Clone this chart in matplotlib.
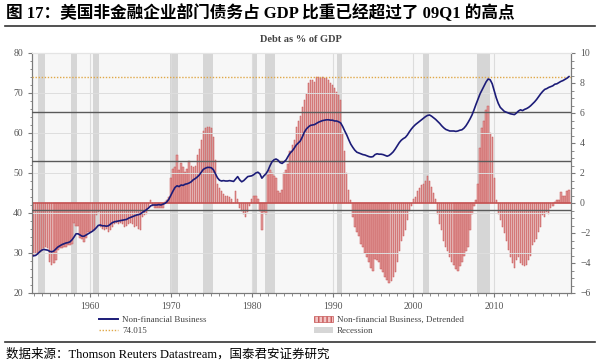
import matplotlib
matplotlib.use("Agg")
import matplotlib.pyplot as plt
import numpy as np
from matplotlib.lines import Line2D
from matplotlib.patches import Patch
from matplotlib.ticker import MultipleLocator

# ---------------- data ----------------
start_year = 1953
# Non-financial business debt, % of GDP (quarterly, 1953Q1 - 2019Q2)
debt_pct_gdp = [
    29.3, 29.4, 29.8, 30.3,  30.7, 30.9, 30.8, 30.7,  30.4, 30.3, 30.5, 31.0,
    31.5, 31.8, 32.1, 32.3,  32.5, 32.6, 32.8, 33.3,  34.0, 34.8, 34.8, 34.5,
    34.2, 34.2, 34.5, 34.8,  35.1, 35.4, 35.8, 36.3,  36.9, 37.0, 36.8, 36.8,
    36.7, 36.8, 37.2, 37.6,  37.8, 37.9, 38.0, 38.1,  38.2, 38.3, 38.4, 38.7,
    38.9, 39.1, 39.3, 39.5,  39.6, 39.8, 40.2, 40.5,  40.9, 41.3, 41.8, 42.0,
    42.0, 42.0, 42.1, 42.0,  42.2, 42.4, 42.8, 43.5,  44.5, 45.5, 46.4, 46.8,
    46.6, 47.0, 46.9, 47.2,  47.3, 47.5, 47.8, 48.3,  48.6, 49.0, 49.5, 50.2,
    50.9, 51.2, 51.4, 51.4,  51.3, 50.8, 49.8, 48.8,  48.2, 48.0, 48.1, 48.0,
    48.0, 48.1, 48.0, 47.9,  48.5, 49.1, 48.3, 47.8,  48.1, 48.6, 49.1, 49.2,
    49.3, 49.6, 50.0, 50.2,  49.8, 48.7, 49.3, 49.8,  50.6, 51.8, 52.8, 53.3,
    53.5, 53.2, 52.6, 52.4,  52.8, 53.3, 54.2, 55.0,  55.5, 56.2, 57.0, 57.5,
    58.0, 59.0, 60.2, 61.0,  61.5, 61.9, 62.0, 62.1,  62.4, 62.7, 62.9, 63.1,
    63.2, 63.3, 63.3, 63.2,  63.2, 63.0, 63.0, 62.8,  62.5, 61.6, 60.5, 59.5,
    58.3, 57.2, 56.4, 55.7,  55.2, 55.0, 54.8, 54.6,  54.5, 54.3, 54.1, 54.0,
    54.1, 54.6, 54.8, 54.7,  54.7, 54.6, 54.4, 54.2,  54.4, 54.8, 55.3, 56.0,
    56.8, 57.6, 58.2, 58.6,  58.9, 59.5, 60.3, 61.0,  61.6, 62.1, 62.5, 62.9,
    63.3, 63.7, 64.1, 64.4,  64.5, 64.2, 63.8, 63.4,  62.9, 62.4, 61.8, 61.3,
    60.9, 60.7, 60.5, 60.5,  60.5, 60.4, 60.5, 60.7,  60.8, 61.2, 61.8, 62.6,
    63.5, 64.5, 65.8, 67.2,  68.5, 69.8, 70.8, 71.8,  72.8, 73.5, 73.3, 72.3,
    70.5, 68.8, 67.4, 66.4,  65.9, 65.4, 65.2, 65.0,  64.8, 64.7, 64.6, 65.0,
    65.5, 65.8, 65.6, 65.9,  66.1, 66.4, 66.8, 67.3,  67.8, 68.4, 69.1, 69.8,
    70.4, 70.9, 71.1, 71.4,  71.6, 71.8, 72.2, 72.3,  72.6, 72.9, 73.1, 73.4,
    73.7, 74.1,
]
# Detrended series (right axis), same quarters
detrended = [
    -3.5, -3.4, -3.4, -3.3,  -3.2, -3.0, -2.9, -3.0,  -3.9, -4.1, -4.0, -3.8,
    -3.1, -3.0, -3.0, -2.9,  -2.9, -2.8, -2.8, -2.7,  -1.3, -1.5, -1.5, -2.3,
    -2.4, -2.6, -2.3, -1.9,  -1.9, -1.8, -1.8, -0.8,  -0.6, -1.6, -1.7, -1.8,
    -1.7, -1.9, -1.8, -1.6,  -1.4, -1.3, -1.4, -1.3,  -1.4, -1.6, -1.5, -1.4,
    -1.3, -1.4, -1.6, -1.5,  -1.7, -1.8, -0.9, -0.8,  -0.7, -0.3, 0.2, -0.2,
    -0.35, -0.3, -0.35, -0.3,  -0.3, 0.1, 0.2, 0.4,  1.7, 2.3, 2.4, 3.2,
    2.2, 2.7, 2.4, 2.1,  2.3, 2.8, 2.5, 2.4,  2.5, 3.2, 3.6, 4.2,
    4.8, 5.0, 5.1, 5.1,  5.0, 4.4, 2.9, 1.3,  1.0, 0.8, 0.6, 0.5,
    0.5, 0.4, 0.3, 0.0,  0.8, 0.3, -0.3, -0.5,  -0.7, -0.9, -0.6, -0.2,
    0.3, 0.5, 0.5, 0.3,  -0.5, -1.8, -0.6, -0.7,  1.9, 2.2, 2.0, 1.8,
    1.7, 0.8, 0.7, 0.9,  2.0, 2.2, 2.6, 3.5,  3.9, 4.2, 5.1, 5.5,
    5.8, 6.4, 6.9, 7.3,  8.0, 8.2, 8.2, 8.1,  8.4, 8.4, 8.3, 8.4,
    8.3, 8.3, 8.2, 8.0,  7.9, 7.7, 7.4, 7.2,  6.9, 4.7, 3.5, 2.0,
    0.9, 0.2, -0.9, -1.6,  -1.9, -2.2, -2.7, -2.9,  -3.3, -3.6, -3.9, -4.3,
    -4.5, -3.7, -3.8, -3.9,  -4.4, -4.6, -4.9, -5.1,  -5.3, -5.2, -4.9, -4.6,
    -3.9, -3.2, -2.5, -2.2,  -1.8, -1.1, -0.5, -0.2,  0.3, 0.4, 0.8, 1.0,
    1.2, 1.3, 1.5, 1.8,  1.5, 1.1, 0.7, 0.3,  -0.7, -1.4, -1.8, -2.5,
    -2.9, -3.2, -3.6, -3.9,  -4.1, -4.4, -4.5, -4.2,  -3.9, -3.5, -3.2, -2.9,
    -1.8, -0.7, -0.2, 0.2,  1.3, 3.7, 5.0, 5.5,  6.2, 6.5, 4.7, 4.4,
    1.7, 0.2, -0.7, -1.1,  -1.6, -2.0, -2.5, -3.1,  -3.6, -4.0, -4.3, -3.8,
    -3.6, -4.0, -4.1, -4.2,  -4.1, -3.8, -3.5, -2.8,  -2.6, -2.4, -1.9, -1.6,
    -0.8, -0.9, -0.6, -0.7,  -0.3, -0.2, 0.1, 0.2,  0.2, 0.75, 0.5, 0.5,
    0.8, 0.9,
]
recession_start = [1953.5, 1957.6, 1960.3, 1969.9, 1973.9, 1980.0, 1981.6, 1990.6, 2001.2, 2007.9]
recession_end   = [1954.4, 1958.4, 1961.1, 1970.9, 1975.2, 1980.6, 1982.9, 1991.2, 2001.9, 2009.5]
reference_level = 74.015
band_levels = [65.2, 53.0, 40.8]
decade_ticks = [1960, 1970, 1980, 1990, 2000, 2010]

x = start_year + np.arange(len(debt_pct_gdp)) / 4.0

# ---------------- figure ----------------
serif = ['Liberation Serif', 'Noto Sans CJK SC']
fig = plt.figure(figsize=(6.0, 3.63), dpi=100)
L, R, T, B = 32, 571, 53, 293
W, H = 600, 363
ax = fig.add_axes([L / W, 1 - B / H, (R - L) / W, (B - T) / H])
ax.set_facecolor('#f7f7f7')

# recessions
for s, e in zip(recession_start, recession_end):
    ax.axvspan(s, e, color='#d6d6d6', zorder=1, lw=0)
for d in decade_ticks:
    ax.axvline(d, color='#dcdcdc', lw=0.8, zorder=1.5)

ax.bar(x, detrended, width=0.17, color='#e29a9a', edgecolor='#c65555',
       linewidth=0.35, zorder=2)
ax.axhline(0, color='#c65555', lw=1.2, zorder=2.5)
ax.set_ylim(-6, 10)
ax.set_xlim(1952.8, 2019.5)

ax2 = ax.twinx()
ax2.patch.set_visible(False)
ax2.set_ylim(20, 80)
# left scale on ax2, right scale on ax
ax2.yaxis.set_ticks_position('left')
ax2.yaxis.set_label_position('left')
ax.yaxis.set_ticks_position('right')
ax.yaxis.set_label_position('right')
ax.yaxis.set_major_locator(MultipleLocator(2))
ax.yaxis.set_minor_locator(MultipleLocator(0.5))
ax2.yaxis.set_major_locator(MultipleLocator(10))
ax2.yaxis.set_minor_locator(MultipleLocator(2))

for g in range(30, 80, 10):
    ax2.axhline(g, color='#dedede', lw=0.7, zorder=1)
for lv in band_levels:
    ax2.axhline(lv, color='#5a5a5a', lw=1.0, zorder=3)
ax2.axhline(reference_level, color='#e0a848', lw=1.0, ls=(0, (1, 1.2)), zorder=3)
ax2.plot(x, debt_pct_gdp, color='#1c1c78', lw=1.2, zorder=4)

ax.set_xticks(decade_ticks)
ax.xaxis.set_minor_locator(MultipleLocator(1))

for a in (ax, ax2):
    for sp in a.spines.values():
        sp.set_color('#7a7a7a')
        sp.set_linewidth(0.8)
    a.spines['top'].set_color('#e4e4e4')
    a.tick_params(which='both', direction='out', colors='#7a7a7a',
                  labelcolor='#555555', labelsize=7)
    a.tick_params(which='major', length=3)
    a.tick_params(which='minor', length=1.8)
    for lab in a.get_xticklabels() + a.get_yticklabels():
        lab.set_family('Liberation Serif')

# titles / texts
fig.text(6 / W, 1 - 13 / H, '图 17：美国非金融企业部门债务占 GDP 比重已经超过了 09Q1 的高点',
         family=serif, fontsize=12, fontweight='bold', va='center', ha='left')
fig.add_artist(Line2D([5 / W, 595 / W], [1 - 26 / H, 1 - 26 / H], color='#333333', lw=1.2))
fig.text(301 / W, 1 - 40 / H, 'Debt as % of GDP', family='Liberation Serif',
         fontsize=7.5, fontweight='bold', color='#444444', ha='center', va='center')
fig.add_artist(Line2D([5 / W, 595 / W], [1 - 342 / H, 1 - 342 / H], color='#333333', lw=1.2))
fig.text(6 / W, 1 - 354 / H, '数据来源：Thomson Reuters Datastream，国泰君安证券研究',
         family=serif, fontsize=9, va='center', ha='left')

# legends
h_line = Line2D([], [], color='#1c1c78', lw=1.4)
h_ref = Line2D([], [], color='#e0a848', lw=1.0, ls=(0, (1, 1.2)))
h_bar = Patch(facecolor='#f2c4c4', edgecolor='#c65555', hatch='||||', lw=0.5)
h_rec = Patch(facecolor='#d6d6d6', edgecolor='none')
lp = dict(frameon=False, prop={'family': 'Liberation Serif', 'size': 6.5},
          handlelength=2.2, handletextpad=0.4, labelspacing=0.35, borderpad=0,
          labelcolor='#444444')
leg1 = fig.legend([h_line, h_ref], ['Non-financial Business', '74.015'],
                  loc='upper left', bbox_to_anchor=(94 / W, 1 - 311 / H), **lp)
leg2 = fig.legend([h_bar, h_rec], ['Non-financial Business, Detrended', 'Recession'],
                  loc='upper left', bbox_to_anchor=(309 / W, 1 - 311 / H), **lp)

fig.savefig('out.png', dpi=100)
